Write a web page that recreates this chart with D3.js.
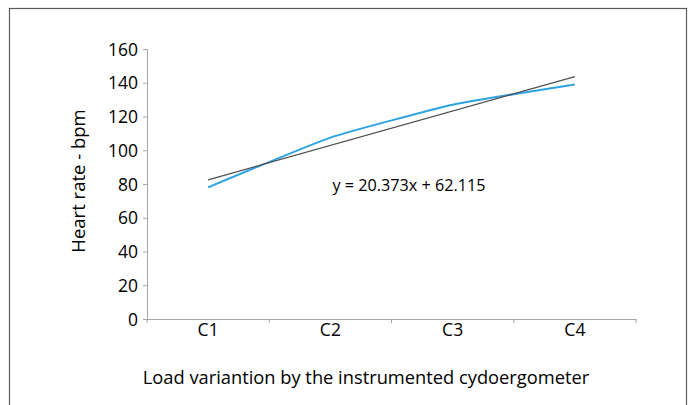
<!DOCTYPE html>
<html>
<head>
<meta charset="utf-8">
<script src="https://cdn.jsdelivr.net/npm/d3@7"></script>
<style>
  body { margin: 0; background: #fff; }
  text { font-family: "Open Sans", "Noto Sans", sans-serif; fill: #000; }
</style>
</head>
<body>
<script>
// chart data
categories = ["C1", "C2", "C3", "C4"];
heartRate = [78, 107.5, 127, 139];
yTicks = [0, 20, 40, 60, 80, 100, 120, 140, 160];
trendSlope = 20.373;
trendIntercept = 62.115;
trendLabel = "y = 20.373x + 62.115";
yTitle = "Heart rate - bpm";
xTitle = "Load variantion by the instrumented cydoergometer";

var width = 694, height = 405;

var svg = d3.select("body")
    .append("svg")
    .attr("width", width)
    .attr("height", height);

// outer frame
svg.append("rect")
    .attr("x", 9.5).attr("y", 8.5)
    .attr("width", 677).attr("height", 420)
    .style("fill", "none")
    .style("stroke", "#5a5a5a")
    .style("stroke-width", 1.2);

var x = d3.scaleBand().domain(categories).range([147, 636]).padding(0);
var y = d3.scaleLinear().domain([0, 160]).range([319, 49]);
var cx = function(c) { return x(c) + x.bandwidth() / 2; };

// y axis
var yAxis = svg.append("g")
    .attr("transform", "translate(147,0)")
    .call(d3.axisLeft(y).tickValues(yTicks).tickSize(4).tickPadding(5));
yAxis.selectAll("text").style("font-size", "17.5px").attr("dy", "0.35em");

// x axis
var xAxis = svg.append("g")
    .attr("transform", "translate(0,319)")
    .call(d3.axisBottom(x).tickSize(0).tickPadding(5));
xAxis.selectAll("text").style("font-size", "17.5px");
// ticks on band boundaries
xAxis.selectAll(".bnd")
    .data(categories.concat(["end"]))
    .enter().append("line")
    .attr("class", "bnd")
    .attr("x1", function(d, i) { return i < categories.length ? x(d) : x.range()[1]; })
    .attr("x2", function(d, i) { return i < categories.length ? x(d) : x.range()[1]; })
    .attr("y1", 0).attr("y2", 4);

svg.selectAll(".domain, .tick line, .bnd")
    .style("stroke", "#a6a6a6")
    .style("stroke-width", 1);

// data line
var line = d3.line()
    .x(function(d, i) { return cx(categories[i]); })
    .y(function(d) { return y(d); })
    .curve(d3.curveCardinal.tension(0.6));

svg.append("path")
    .datum(heartRate)
    .attr("d", line)
    .style("fill", "none")
    .style("stroke", "#2ea3e3")
    .style("stroke-width", 2);

// linear trend line
var trend = [1, categories.length].map(function(n) {
    return {c: categories[n - 1], v: trendSlope * n + trendIntercept};
});
svg.append("line")
    .attr("x1", cx(trend[0].c)).attr("y1", y(trend[0].v))
    .attr("x2", cx(trend[1].c)).attr("y2", y(trend[1].v))
    .style("stroke", "#4d4d4d")
    .style("stroke-width", 1.2);

svg.append("text")
    .attr("x", 409).attr("y", 185)
    .attr("dy", "0.35em")
    .attr("text-anchor", "middle")
    .style("font-size", "16.2px")
    .text(trendLabel);

// axis titles
svg.append("text")
    .attr("transform", "translate(79,181) rotate(-90)")
    .attr("dy", "0.35em")
    .attr("text-anchor", "middle")
    .style("font-size", "18.5px")
    .text(yTitle);

svg.append("text")
    .attr("x", 366).attr("y", 378)
    .attr("dy", "0.35em")
    .attr("text-anchor", "middle")
    .style("font-size", "18.3px")
    .text(xTitle);
</script>
</body>
</html>
